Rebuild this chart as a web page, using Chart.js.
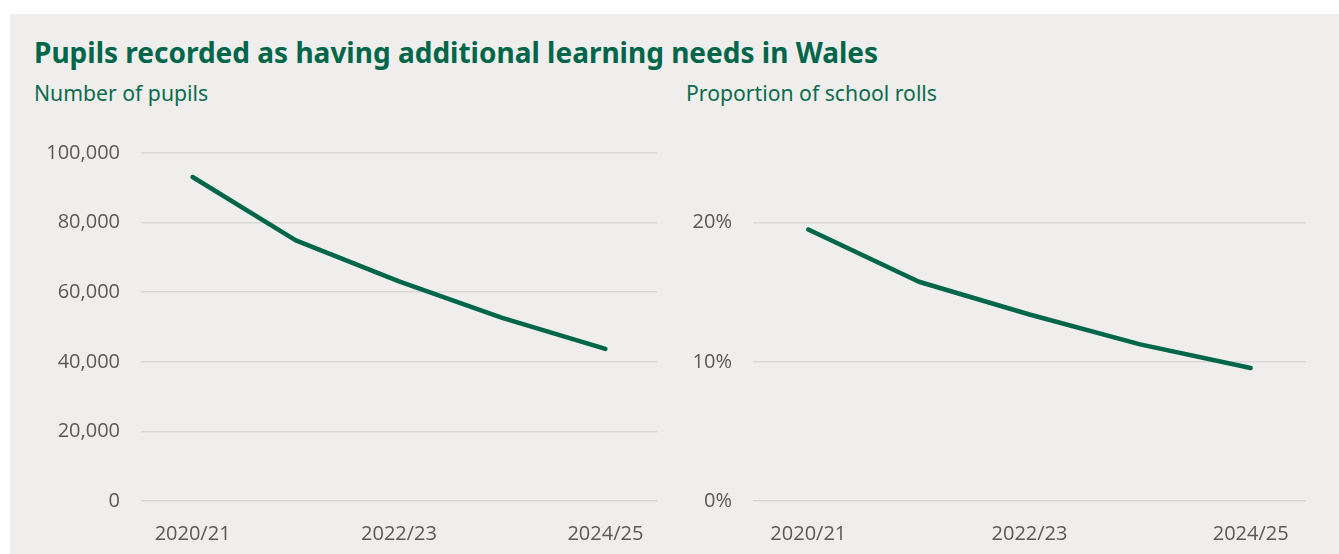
<!DOCTYPE html>
<html>
<head>
<meta charset="utf-8">
<script src="https://cdn.jsdelivr.net/npm/chart.js@4.4.1/dist/chart.umd.min.js"></script>
<style>
  html, body { margin: 0; padding: 0; background: #ffffff; }
  body { width: 1339px; height: 554px; position: relative; overflow: hidden; }
  #panel { position: absolute; left: 10px; top: 14px; right: 0; bottom: 0; background: #efeeec; }
  .title { position: absolute; left: 34px; top: 34px; line-height: 36px; font-family: "Noto Sans", sans-serif; font-weight: 700;
           font-size: 28px; color: #00664a; white-space: nowrap; letter-spacing: 0px; }
  .sub { position: absolute; top: 80px; line-height: 26px; font-family: "Noto Sans", sans-serif; font-size: 21.2px;
         color: #0b6c4d; white-space: nowrap; }
  .box { position: absolute; top: 120px; height: 434px; }
  .box canvas { display: block; }
</style>
</head>
<body>
<div id="panel"></div>
<div class="title">Pupils recorded as having additional learning needs in Wales</div>
<div class="sub" style="left:34px;">Number of pupils</div>
<div class="sub" style="left:686px;">Proportion of school rolls</div>
<div class="box" style="left:10px; width:660px;"><canvas id="pupils"></canvas></div>
<div class="box" style="left:670px; width:669px;"><canvas id="share"></canvas></div>

<script>
// School years
const years = ["2020/21", "2021/22", "2022/23", "2023/24", "2024/25"];
// Pupils with additional learning needs
const pupilCounts = [93100, 74900, 63100, 52600, 43700];
// Same pupils as a percentage of all pupils on school rolls
const rollShare = [19.5, 15.75, 13.4, 11.25, 9.55];
// Values marked on each vertical axis
const pupilTicks = [0, 20000, 40000, 60000, 80000, 100000];
const shareTicks = [0, 10, 20];

const GREEN = "#00664a";
const GRID = "#d9d8d6";
const TICK = "#595959";
const tickFont = { family: "'Open Sans', 'Noto Sans', sans-serif", size: 20 };

function buildChart(id, values, yTicks, yMax, fmt, axisWidth, rightPad) {
  return new Chart(document.getElementById(id), {
    type: "line",
    data: {
      labels: years,
      datasets: [{
        data: values,
        borderColor: GREEN,
        borderWidth: 4.5,
        borderCapStyle: "round",
        borderJoinStyle: "round",
        pointRadius: 0,
        tension: 0,
        fill: false
      }]
    },
    options: {
      responsive: false,
      animation: false,
      devicePixelRatio: 1,
      layout: { padding: { top: 31, right: rightPad, left: 0, bottom: 0 } },
      plugins: { legend: { display: false }, tooltip: { enabled: false } },
      scales: {
        x: {
          offset: true,
          grid: { display: false, drawTicks: false },
          border: { display: false },
          ticks: {
            autoSkip: false,
            maxRotation: 0,
            padding: 21,
            color: TICK,
            font: tickFont,
            callback: (v, i) => (i % 2 === 0 ? years[i] : "")
          },
          afterFit: s => { s.height = 53; }
        },
        y: {
          min: 0,
          max: yMax,
          grid: { color: GRID, lineWidth: 1.5, drawTicks: false },
          border: { display: false },
          afterBuildTicks: s => { s.ticks = yTicks.map(v => ({ value: v })); },
          ticks: { padding: 21, color: TICK, font: tickFont, callback: v => fmt(v) },
          afterFit: s => { s.width = axisWidth; }
        }
      }
    }
  });
}

function sizeCanvas(id, w, h) {
  const c = document.getElementById(id);
  c.width = w; c.height = h;
  c.style.width = w + "px"; c.style.height = h + "px";
}

sizeCanvas("pupils", 660, 434);
sizeCanvas("share", 669, 434);

buildChart("pupils", pupilCounts, pupilTicks, 100000,
  v => v.toLocaleString("en-GB"), 131, 13);
buildChart("share", rollShare, shareTicks, 25,
  v => v + "%", 83, 33);
</script>
</body>
</html>
